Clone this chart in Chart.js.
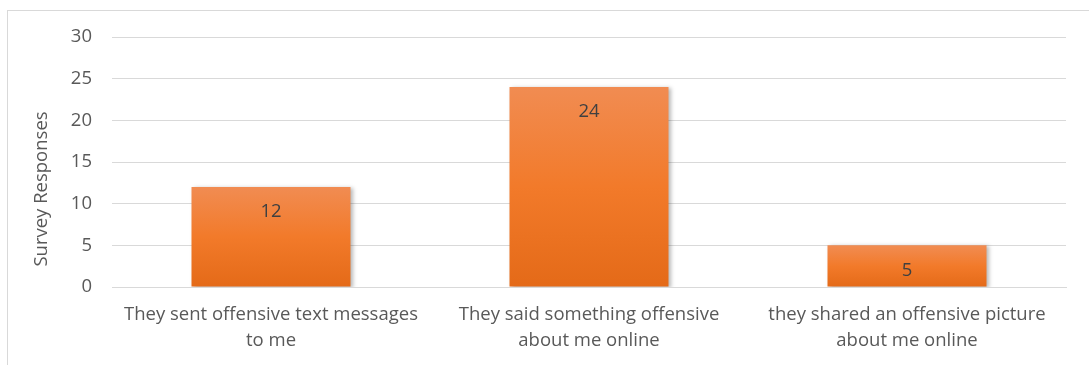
<!DOCTYPE html>
<html>
<head>
<meta charset="utf-8">
<script src="https://cdn.jsdelivr.net/npm/chart.js@4"></script>
<style>
  html, body { margin: 0; padding: 0; background: #fff; }
  #wrap { width: 1089px; height: 365px; }
</style>
</head>
<body>
<div id="wrap"><canvas id="chart" width="1089" height="365"></canvas></div>
<script>
  const categorias = [
    ["They sent offensive text messages", "to me"],
    ["They said something offensive", "about me online"],
    ["they shared an offensive picture", "about me online"]
  ];
  const respuestas = [12, 24, 5];
  const ticksY = [0, 5, 10, 15, 20, 25, 30];
  const tituloY = "Survey Responses";

  const fuente = "'Open Sans', 'Noto Sans', sans-serif";
  const gris = "#595959";
  const tam = 18.5;

  // Marco gris claro alrededor del grafico
  const marco = {
    id: "marco",
    beforeDraw(chart) {
      const ctx = chart.ctx;
      ctx.save();
      ctx.strokeStyle = "#d9d9d9";
      ctx.lineWidth = 1;
      ctx.strokeRect(7.5, 10.5, 1200, 500);
      ctx.restore();
    }
  };

  // Titulo vertical del eje Y (centrado en todo el alto del grafico)
  const tituloEje = {
    id: "tituloEje",
    afterDraw(chart) {
      const ctx = chart.ctx;
      ctx.save();
      ctx.translate(42, 189);
      ctx.rotate(-Math.PI / 2);
      ctx.font = tam + "px " + fuente;
      ctx.fillStyle = gris;
      ctx.textAlign = "center";
      ctx.textBaseline = "middle";
      ctx.fillText(tituloY, 0, 0);
      ctx.restore();
    }
  };

  // Sombra suave a la derecha/abajo de cada barra
  const sombra = {
    id: "sombra",
    beforeDatasetsDraw(chart) {
      const ctx = chart.ctx;
      ctx.save();
      ctx.shadowColor = "rgba(0,0,0,0.28)";
      ctx.shadowBlur = 4;
      ctx.shadowOffsetX = 2;
      ctx.shadowOffsetY = 1;
    },
    afterDatasetsDraw(chart) {
      chart.ctx.restore();
    }
  };

  // Valor dentro de la barra, cerca del borde superior
  const etiquetas = {
    id: "etiquetas",
    afterDatasetsDraw(chart) {
      const ctx = chart.ctx;
      const meta = chart.getDatasetMeta(0);
      ctx.save();
      ctx.font = tam + "px " + fuente;
      ctx.fillStyle = "#404040";
      ctx.textAlign = "center";
      ctx.textBaseline = "middle";
      meta.data.forEach((bar, i) => {
        ctx.fillText(respuestas[i], bar.x, bar.y + 25);
      });
      ctx.restore();
    }
  };

  // Degradado propio de cada barra: claro arriba, mas oscuro abajo
  function degradado(context) {
    const chart = context.chart;
    const area = chart.chartArea;
    if (!area || context.type !== "data") return "#f07a26";
    const y = chart.scales.y;
    const arriba = y.getPixelForValue(context.raw);
    const abajo = y.getPixelForValue(0);
    const g = chart.ctx.createLinearGradient(0, arriba, 0, abajo);
    g.addColorStop(0, "#f18c52");
    g.addColorStop(0.5, "#f27a2a");
    g.addColorStop(1, "#e46a18");
    return g;
  }

  new Chart(document.getElementById("chart"), {
    type: "bar",
    data: {
      labels: categorias,
      datasets: [{
        data: respuestas,
        backgroundColor: degradado,
        borderWidth: 0,
        barPercentage: 0.5,
        categoryPercentage: 1
      }]
    },
    options: {
      responsive: false,
      animation: false,
      layout: { padding: { top: 37, right: 23, left: 0, bottom: 0 } },
      plugins: {
        legend: { display: false },
        tooltip: { enabled: false }
      },
      scales: {
        x: {
          grid: { display: false, drawTicks: false },
          border: { color: "#d9d9d9", width: 1 },
          ticks: {
            color: gris,
            font: { family: fuente, size: tam, lineHeight: 1.4 },
            padding: 15,
            maxRotation: 0,
            autoSkip: false
          },
          afterFit(scale) { scale.height = 78; }
        },
        y: {
          min: 0,
          max: 30,
          afterBuildTicks(scale) {
            scale.ticks = ticksY.map(v => ({ value: v }));
          },
          grid: { color: "#d9d9d9", drawTicks: false },
          border: { display: false },
          ticks: {
            color: gris,
            font: { family: fuente, size: tam },
            padding: 20
          },
          afterFit(scale) { scale.width = 112; }
        }
      }
    },
    plugins: [marco, tituloEje, sombra, etiquetas]
  });
</script>
</body>
</html>
